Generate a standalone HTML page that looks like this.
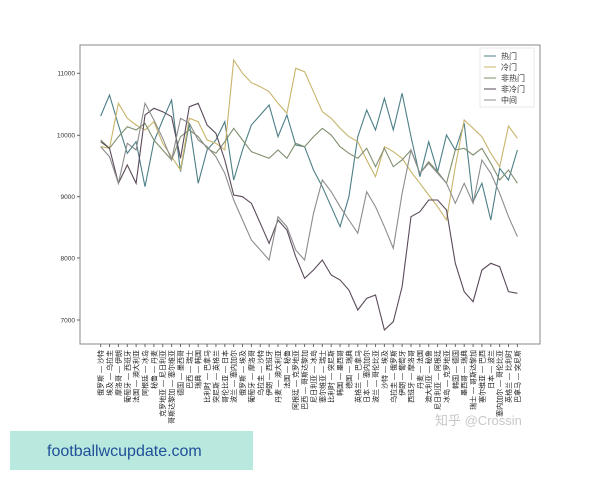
<!DOCTYPE html>
<html><head><meta charset="utf-8"><style>
html,body{margin:0;padding:0;background:#fff;width:600px;height:480px;overflow:hidden}
svg{display:block}
</style></head><body>
<svg id="s" width="600" height="480" xmlns="http://www.w3.org/2000/svg" font-family="Liberation Sans, Noto Sans CJK SC, sans-serif">
<rect x="0" y="0" width="600" height="480" fill="#fff"/>
<rect x="80" y="45" width="460" height="299" fill="none" stroke="#888" stroke-width="1"/>
<g font-size="6.5" fill="#333" text-anchor="end">
<text x="75" y="75.5">11000</text><line x1="77" x2="80" y1="73.3" y2="73.3" stroke="#666"/>
<text x="75" y="137.5">10000</text><line x1="77" x2="80" y1="135.3" y2="135.3" stroke="#666"/>
<text x="75" y="199">9000</text><line x1="77" x2="80" y1="196.7" y2="196.7" stroke="#666"/>
<text x="75" y="260.5">8000</text><line x1="77" x2="80" y1="258" y2="258" stroke="#666"/>
<text x="75" y="322.3">7000</text><line x1="77" x2="80" y1="320" y2="320" stroke="#666"/>
</g>
<g id="lines" fill="none" stroke-width="1.1"></g>
<g id="xl" font-size="7" fill="#222"></g>
<rect x="480" y="48" width="54" height="59" fill="#fff" stroke="#ddd" stroke-width="0.6"/>
<g font-size="8" fill="#333">
<line x1="484" x2="496" y1="56" y2="56" stroke="#4c7f86"/><text x="501" y="59">热门</text>
<line x1="484" x2="496" y1="67" y2="67" stroke="#c8b46a"/><text x="501" y="70">冷门</text>
<line x1="484" x2="496" y1="78" y2="78" stroke="#7f8f6f"/><text x="501" y="81">非热门</text>
<line x1="484" x2="496" y1="89" y2="89" stroke="#5a4a5a"/><text x="501" y="92">非冷门</text>
<line x1="484" x2="496" y1="100" y2="100" stroke="#8c8c8c"/><text x="501" y="103">中间</text>
</g>
<text x="435" y="425" font-size="13" fill="#c8c8c8">知乎 @Crossin</text>
<rect x="10" y="431" width="243" height="39" fill="#b9e8df"/>
<text x="47" y="456" font-size="16" fill="#1f4f96">footballwcupdate.com</text>
</svg>
<script>
var S={
"#4c7f86":[228,165,255,340,305,440,305,240,180,395,250,430,330,300,245,420,330,255,225,195,290,225,315,320,390,440,500,560,470,290,210,270,175,270,160,290,410,305,395,285,330,250,485,430,540,385,420,330],
"#c8b46a":[320,325,190,235,255,270,245,310,350,390,235,245,300,310,330,60,100,128,140,155,190,220,85,95,155,215,235,265,290,305,360,410,320,335,355,395,430,465,500,540,380,240,265,290,340,380,258,295],
"#7f8f6f":[300,325,290,260,270,250,300,330,360,290,270,290,325,340,305,265,300,335,345,355,330,355,310,320,290,265,285,320,340,355,325,380,325,380,360,330,400,365,395,430,330,325,345,325,370,420,390,430],
"#5a4a5a":[305,325,430,375,430,225,205,215,230,355,200,190,255,280,360,465,470,490,550,610,540,570,650,715,690,660,705,720,750,810,775,765,870,845,740,530,515,480,480,510,670,755,785,690,670,680,755,760],
"#8c8c8c":[320,350,430,310,330,190,240,295,360,235,250,300,320,350,400,480,540,600,630,660,530,560,630,660,520,420,455,500,540,580,455,500,560,625,460,330,400,370,400,430,490,430,490,360,400,460,530,590]};
var g=document.getElementById('lines'),NS="http://www.w3.org/2000/svg";
for(var c in S){var p=S[c].map(function(v,i){return (80+(62+i*26.6)/3).toFixed(1)+","+(40+v/3).toFixed(1)}).join(" ");
var e=document.createElementNS(NS,"polyline");e.setAttribute("points",p);e.setAttribute("stroke",c);g.appendChild(e);}
var L="俄罗斯 — 沙特,埃及 — 乌拉圭,摩洛哥 — 伊朗,葡萄牙 — 西班牙,法国 — 澳大利亚,阿根廷 — 冰岛,秘鲁 — 丹麦,克罗地亚 — 尼日利亚,哥斯达黎加 — 塞尔维亚,德国 — 墨西哥,巴西 — 瑞士,瑞典 — 韩国,比利时 — 巴拿马,突尼斯 — 英格兰,哥伦比亚 — 日本,波兰 — 塞内加尔,俄罗斯 — 埃及,葡萄牙 — 摩洛哥,乌拉圭 — 沙特,伊朗 — 西班牙,丹麦 — 澳大利亚,法国 — 秘鲁,阿根廷 — 克罗地亚,巴西 — 哥斯达黎加,尼日利亚 — 冰岛,塞尔维亚 — 瑞士,比利时 — 突尼斯,韩国 — 墨西哥,德国 — 瑞典,英格兰 — 巴拿马,日本 — 塞内加尔,波兰 — 哥伦比亚,沙特 — 埃及,乌拉圭 — 俄罗斯,伊朗 — 葡萄牙,西班牙 — 摩洛哥,丹麦 — 法国,澳大利亚 — 秘鲁,尼日利亚 — 阿根廷,冰岛 — 克罗地亚,韩国 — 德国,墨西哥 — 瑞典,瑞士 — 哥斯达黎加,塞尔维亚 — 巴西,日本 — 波兰,塞内加尔 — 哥伦比亚,英格兰 — 比利时,巴拿马 — 突尼斯".split(",");
var xl=document.getElementById('xl');
L.forEach(function(t,i){var x=80+(62+i*26.6)/3;
var tk=document.createElementNS(NS,"line");tk.setAttribute("x1",x);tk.setAttribute("x2",x);tk.setAttribute("y1",344);tk.setAttribute("y2",347);tk.setAttribute("stroke","#666");xl.appendChild(tk);
var e=document.createElementNS(NS,"text");e.setAttribute("transform","translate("+(x+2.5)+",350) rotate(-90)");e.setAttribute("text-anchor","end");e.textContent=t;xl.appendChild(e);});
</script>
</body></html>
